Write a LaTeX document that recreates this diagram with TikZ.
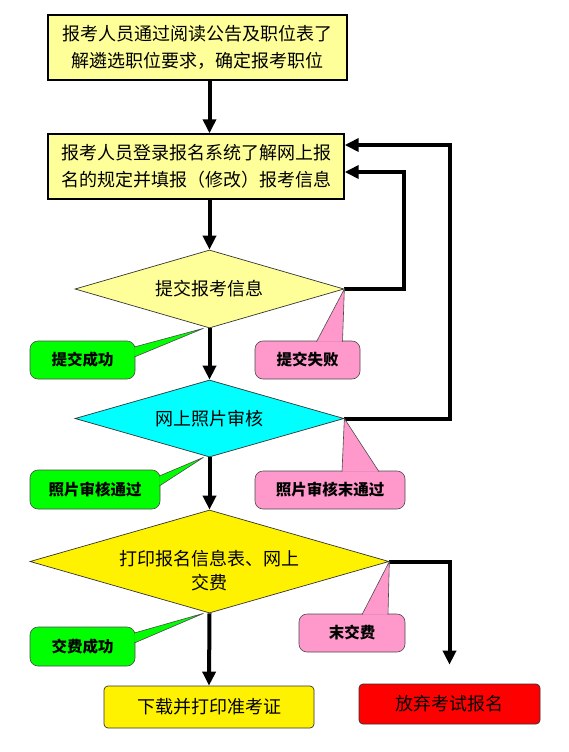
\documentclass[tikz,border=0pt]{standalone}
\usepackage{fontspec}
\setmainfont{Noto Sans CJK SC}
\usepackage{tikz}
\usetikzlibrary{arrows.meta,shapes.geometric}
\definecolor{paleyellow}{HTML}{FFFF99}
\definecolor{photocyan}{HTML}{00FFFF}
\definecolor{passgreen}{HTML}{00FF00}
\definecolor{failpink}{HTML}{FF99CC}

\begin{document}
\begin{tikzpicture}[x=1pt,y=-1pt,
  infobox/.style={draw=black, line width=1.4pt, fill=paleyellow, inner sep=0pt, align=center, font=\fontsize{18}{27}\selectfont},
  check/.style={diamond, draw=black!80, line width=0.7pt, inner sep=0pt, aspect=3.4, align=center, font=\fontsize{18}{26}\selectfont},
  endbox/.style={draw=black!80, line width=0.7pt, rounded corners=4pt, inner sep=0pt, font=\fontsize{18}{22}\selectfont},
  note/.style={draw=black!70, line width=0.6pt, rounded corners=8pt, inner sep=0pt, font=\fontsize{15.5}{18}\selectfont\bfseries},
  pointer/.style={draw=black!70, line width=0.6pt, line join=miter},
  flow/.style={line width=4pt, -{Triangle[length=14pt, width=13pt]}}]
\useasboundingbox (0,0) rectangle (568,752);
\fill[white] (0,0) rectangle (568,752);
% boxes
\node[infobox, minimum width=299pt, minimum height=65pt] (read) at (197.5,47.5) {报考人员通过阅读公告及职位表了\\解遴选职位要求，确定报考职位};
\node[infobox, minimum width=296pt, minimum height=65pt] (fill) at (196,166.5) {报考人员登录报名系统了解网上报\\名的规定并填报（修改）报考信息};
\node[check, fill=paleyellow, minimum width=269pt, minimum height=78pt] (submit) at (209.5,289) {提交报考信息};
\node[check, fill=photocyan, minimum width=269pt, minimum height=77pt] (photo) at (209.5,418.5) {网上照片审核};
\node[check, fill=yellow, minimum width=359pt, minimum height=103pt] (pay) at (209.5,561.5) {\raisebox{-9pt}[\height][\depth]{\shortstack{打印报名信息表、网上\\[5pt]交费}}};
\node[endbox, fill=yellow, minimum width=210pt, minimum height=42pt] (ticket) at (209,707) {下载并打印准考证};
\node[endbox, fill=red, minimum width=181pt, minimum height=40pt] (quit) at (449.5,704) {放弃考试报名};
% loops
\coordinate (loopa) at (404,0);
\coordinate (loopb) at (450,0);
\draw[flow] (read.south -| submit.north) -- (fill.north -| submit.north);
\draw[flow] (fill.south -| submit.north) -- (submit.north);
\draw[flow] (submit.south) -- (photo.north);
\draw[flow] (photo.south) -- (pay.north);
\draw[flow] (pay.south) -- (ticket.north);
\draw[flow] (submit.east) -- (submit.east -| loopa) |- ([yshift=-5.5pt]fill.east);
\draw[flow] (photo.east) -- (photo.east -| loopb) |- ([yshift=21.5pt]fill.east);
\draw[flow, shorten >=19pt] (pay.east) -| (quit.north);
% notes
\node[note, fill=passgreen, minimum width=105pt, minimum height=38pt] (ok1) at (82.5,360) {提交成功};
\filldraw[pointer, fill=passgreen] ([xshift=-1pt,yshift=13pt]ok1.east) -- ([xshift=-6pt]submit.south) -- ([xshift=-1pt,yshift=3pt]ok1.east);
\node[note, fill=failpink, minimum width=105pt, minimum height=38pt] (bad1) at (307.5,360) {提交失败};
\filldraw[pointer, fill=failpink] ([xshift=9pt,yshift=-1pt]bad1.north) -- (submit.east) -- ([xshift=35pt,yshift=-1pt]bad1.north);
\node[note, fill=passgreen, minimum width=130pt, minimum height=39pt] (ok2) at (95,489.5) {照片审核通过};
\filldraw[pointer, fill=passgreen] ([xshift=-1pt,yshift=13.5pt]ok2.east) -- ([xshift=-6pt]photo.south) -- ([xshift=-1pt,yshift=3.5pt]ok2.east);
\node[note, fill=failpink, minimum width=150pt, minimum height=38pt] (bad2) at (330,490) {照片审核末通过};
\filldraw[pointer, fill=failpink] ([xshift=12pt,yshift=-1pt]bad2.north) -- (photo.east) -- ([xshift=49pt,yshift=-1pt]bad2.north);
\node[note, fill=passgreen, minimum width=105pt, minimum height=39pt] (ok3) at (82.5,646.5) {交费成功};
\filldraw[pointer, fill=passgreen] ([xshift=-1pt,yshift=13.5pt]ok3.east) -- ([xshift=-6pt]pay.south) -- ([xshift=-1pt,yshift=3.5pt]ok3.east);
\node[note, fill=failpink, minimum width=106pt, minimum height=38pt] (bad3) at (352,633) {末交费};
\filldraw[pointer, fill=failpink] ([xshift=10pt,yshift=-1pt]bad3.north) -- (pay.east) -- ([xshift=36pt,yshift=-1pt]bad3.north);
\end{tikzpicture}
\end{document}
